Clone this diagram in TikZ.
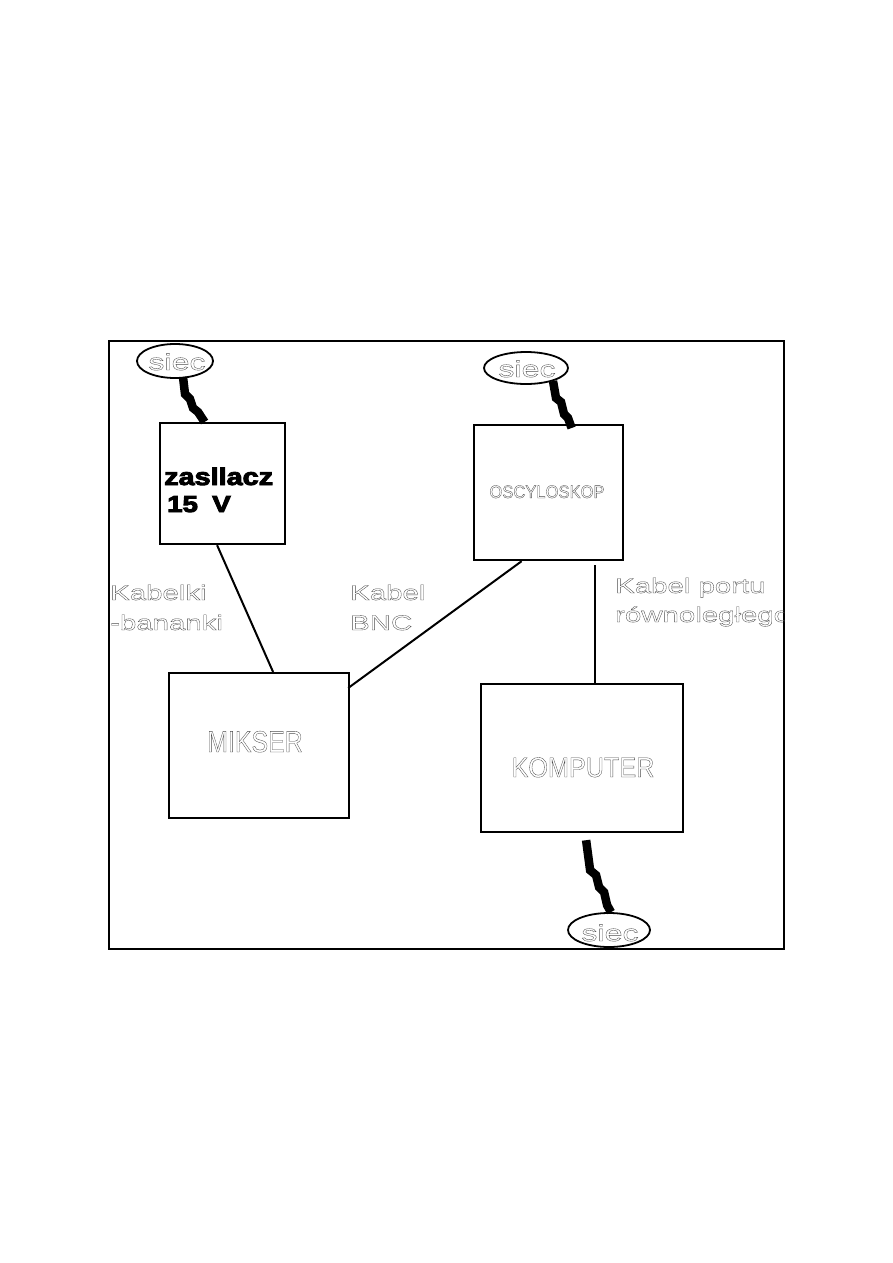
\documentclass[tikz,border=0pt]{standalone}
\usepackage{fontspec}
\setmainfont{Liberation Sans}
\newfontfamily\olfont[FakeStretch=1.4]{Liberation Sans}
\newcommand\oltext[1]{\special{pdf:literal q 1 Tr 0.35 w 0.3 G}#1\special{pdf:literal Q}}
\newcommand\heavytext[1]{\special{pdf:literal q 2 Tr 0.9 w 0 G}#1\special{pdf:literal Q}}
\usetikzlibrary{shapes.geometric,calc}
\begin{document}
\begin{tikzpicture}[x=1pt,y=-1pt,
 box/.style={draw, line width=2.2pt, inner sep=0, anchor=north west},
 cable/.style={line width=8.5pt, line join=miter, line cap=butt},
 wire/.style={line width=2pt},
 el/.style={draw, ellipse, line width=1.8pt, inner sep=0},
 lab/.style={anchor=base west, inner sep=0, font=\olfont\fontsize{21}{21}\selectfont},
 big/.style={anchor=base, inner sep=0}
]
\useasboundingbox (0,0) rectangle (893,1263);
\node[box, line width=1.6pt, minimum width=675pt, minimum height=608pt] (frame) at (108,340) {};
% boxes
\node[box, minimum width=125pt, minimum height=121pt] (zas) at (159,422) {};
\node[box, minimum width=149pt, minimum height=135pt] (osc) at (473,424) {};
\node[box, minimum width=180pt, minimum height=145pt] (mik) at (168,672) {};
\node[box, minimum width=202pt, minimum height=148pt] (kom) at (480,683) {};
% ellipses
\node[el, minimum width=76pt, minimum height=34pt] (s1) at (175,361) {};
\node[el, minimum width=84pt, minimum height=32pt] (s2) at (526,368) {};
\node[el, minimum width=82pt, minimum height=34pt] (s3) at (609,930) {};
\node[lab, anchor=base, font=\olfont\fontsize{23}{23}\selectfont] (s1t) at (177,370) {\oltext{siec}};
\node[lab, anchor=base, font=\olfont\fontsize{23}{23}\selectfont] (s2t) at (527,377) {\oltext{siec}};
\node[lab, anchor=base, font=\olfont\fontsize{23}{23}\selectfont] (s3t) at (610,941) {\oltext{siec}};
% texts in boxes
\node[anchor=base west, inner sep=0, font=\bfseries\fontsize{24}{24}\selectfont] (zt1) at (164,485) {\scalebox{1.2}[1]{\heavytext{zasllacz}}};
\node[anchor=base west, inner sep=0, font=\bfseries\fontsize{23}{23}\selectfont] (zt2) at (167,512) {\scalebox{1.2}[1]{\heavytext{15\hspace{12pt}V}}};
\node[big, font=\fontsize{18}{18}\selectfont] (ot) at (547,498) {\scalebox{0.92}[1]{\oltext{OSCYLOSKOP}}};
\node[big, font=\fontsize{30}{30}\selectfont] (mt) at (255,752) {\scalebox{0.83}[1]{\oltext{MIKSER}}};
\node[big, font=\fontsize{28}{28}\selectfont] (kt) at (583,777) {\scalebox{0.9}[1]{\oltext{KOMPUTER}}};
% cable labels
\node[lab] (l1a) at (110,600) {\oltext{Kabelki}};
\node[lab] (l1b) at (110,630) {\oltext{-bananki}};
\node[lab] (l2a) at (350,600) {\oltext{Kabel}};
\node[lab] (l2b) at (350,630) {\oltext{BNC}};
\begin{scope}
\clip (frame.north west) rectangle (frame.south east);
\node[lab] (l3a) at (615,593) {\oltext{Kabel portu}};
\node[lab] (l3b) at (615,622) {\oltext{równoległego}};
\end{scope}
% wires
\draw[wire] ($(zas.south)+(-5.5,0)$) -- ($(mik.north)+(14,0)$);
\draw[wire] ($(osc.south)+(-27,0)$) -- ($(mik.north east)+(-2,16)$);
\draw[wire] ($(osc.south)+(46.5,4)$) -- ($(kom.north)+(13,0)$);
% power cables
\draw[cable] ($(s1.center)+(8,16)$) -- ++(2,17) -- ++(5,5) -- ++(3,9) -- ++(5,4) -- ($(zas.north)+(-18,0)$);
\draw[cable] ($(s2.center)+(27,13)$) -- ++(3,17) -- ++(5,4) -- ++(3,12) -- ++(4,4) -- ($(osc.north)+(23,4)$);
\draw[cable] ($(kom.south)+(4,7)$) -- ++(4,30) -- ++(6,5) -- ++(3,12) -- ++(5,5) -- ++(3,13) -- ($(s3.north)+(2,0)$);
\end{tikzpicture}
\end{document}
